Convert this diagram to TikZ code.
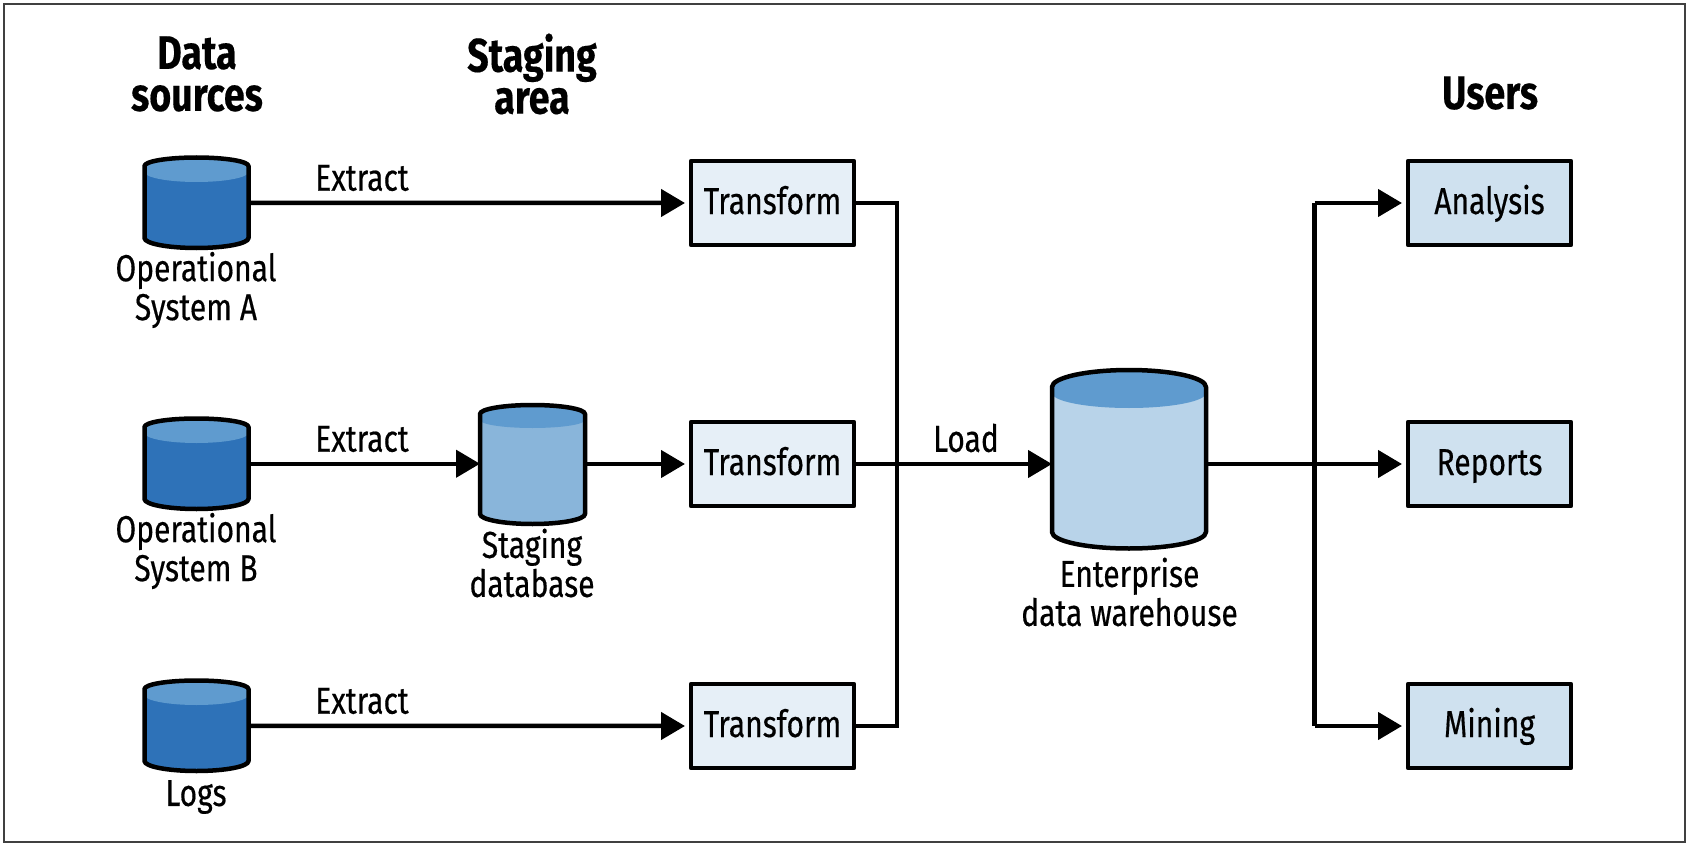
\documentclass[tikz,border=0pt]{standalone}
\usepackage{fontspec}
\setmainfont{Fira Sans}[FakeStretch=0.8,UprightFeatures={FakeBold=0.4},BoldFeatures={FakeBold=0.3}]
\usetikzlibrary{arrows.meta}
\definecolor{cylblue}{HTML}{2E72B8}
\definecolor{cylmid}{HTML}{89B5DA}
\definecolor{cylpale}{HTML}{B8D3E9}
\definecolor{cyltop}{HTML}{5F9BCF}
\definecolor{boxpale}{HTML}{E6EFF7}
\definecolor{boxuser}{HTML}{CFE1EF}
\tikzset{
  line/.style={line width=4.5pt,black,line join=miter},
  conn/.style={line,-{Triangle[length=24pt,width=27pt]}},
  connbox/.style={conn,shorten >=6pt},
  tbox/.style={draw=black,line width=4.5pt,line join=round,fill=boxpale,minimum width=163pt,minimum height=84pt,inner sep=0pt,outer sep=0pt,text height=26pt,text depth=4pt,font=\fontsize{37.5}{38.5}\selectfont},
  ubox/.style={tbox,fill=boxuser},
  head/.style={font=\fontsize{47}{42}\bfseries\selectfont,align=center,inner sep=0pt},
  lab/.style={font=\fontsize{37.5}{39}\selectfont,align=center,inner sep=0pt},
  elab/.style={font=\fontsize{37.5}{38.5}\selectfont,inner sep=0pt},
  hold/.style={inner sep=0pt,outer sep=0pt},
}
% name, cx, half width, top, shoulder, ellipse edge, ellipse apex, bottom shoulder, bottom apex
\newcommand\dbcyl[9]{%
  \pgfmathsetmacro\cxl{#2-#3}\pgfmathsetmacro\cxr{#2+#3}%
  \pgfmathsetmacro\ckx{0.5523*#3}%
  \pgfmathsetmacro\cka{#5-0.5523*(#5-#4)}%
  \pgfmathsetmacro\ckb{#6+0.5523*(#7-#6)}%
  \pgfmathsetmacro\ckc{#8+0.5523*(#9-#8)}%
  \pgfmathsetmacro\ccl{#2-\ckx}\pgfmathsetmacro\ccr{#2+\ckx}%
  \pgfmathsetmacro\cym{(#4+#9)/2}\pgfmathsetmacro\chh{#9-#4}\pgfmathsetmacro\cww{2*#3}%
  \node[hold,minimum width=\cww pt,minimum height=\chh pt] (#1) at (#2,\cym) {};
  \fill[cylbody] (\cxl,#5) .. controls (\cxl,\cka) and (\ccl,#4) .. (#2,#4)
     .. controls (\ccr,#4) and (\cxr,\cka) .. (\cxr,#5) -- (\cxr,#8)
     .. controls (\cxr,\ckc) and (\ccr,#9) .. (#2,#9)
     .. controls (\ccl,#9) and (\cxl,\ckc) .. (\cxl,#8) -- cycle;
  \fill[cyltop] (\cxl,#5) .. controls (\cxl,\cka) and (\ccl,#4) .. (#2,#4)
     .. controls (\ccr,#4) and (\cxr,\cka) .. (\cxr,#5) -- (\cxr,#6)
     .. controls (\cxr,\ckb) and (\ccr,#7) .. (#2,#7)
     .. controls (\ccl,#7) and (\cxl,\ckb) .. (\cxl,#6) -- cycle;
  \draw[line width=4.5pt,line join=round] (\cxl,#5) .. controls (\cxl,\cka) and (\ccl,#4) .. (#2,#4)
     .. controls (\ccr,#4) and (\cxr,\cka) .. (\cxr,#5) -- (\cxr,#8)
     .. controls (\cxr,\ckc) and (\ccr,#9) .. (#2,#9)
     .. controls (\ccl,#9) and (\cxl,\ckc) .. (\cxl,#8) -- cycle;
}
\begin{document}
\begin{tikzpicture}[x=1pt,y=-1pt]
\useasboundingbox (0,0) rectangle (1690,848);
\fill[white] (0,0) rectangle (1690,848);
\draw[line width=1.6pt,draw=black!75] (4,4) rectangle (1685,842);

% headings
\node[head] (hdata) at (197,74) {Data\\sources};
\node[head] (hstag) at (532,74) {Staging\\area};
\node[head,anchor=base] (husers) at (1490,109) {Users};

% cylinders
\colorlet{cylbody}{cylblue}
\dbcyl{opa}{196.5}{52}{157.5}{166}{172}{182}{238}{248}
\dbcyl{opb}{196.5}{52}{418.5}{427}{433}{443}{499}{509}
\dbcyl{logs}{196.5}{52}{680.5}{689}{695}{705}{761}{771}
\colorlet{cylbody}{cylmid}
\dbcyl{stag}{532.5}{52.5}{405}{414}{420}{428}{514}{524}
\colorlet{cylbody}{cylpale}
\dbcyl{ware}{1129}{77}{370}{387}{393}{408}{532}{548.5}

% boxes
\node[tbox] (t1) at (772.5,203) {Transform};
\node[tbox] (t2) at (772.5,464) {Transform};
\node[tbox] (t3) at (772.5,726) {Transform};
\node[ubox] (u1) at (1489.5,203) {Analysis};
\node[ubox] (u2) at (1489.5,464) {Reports};
\node[ubox] (u3) at (1489.5,726) {Mining};

% captions
\node[lab] (lopa) at (196,290) {Operational\\System A};
\node[lab] (lopb) at (196,551) {Operational\\System B};
\node[lab] (llogs) at (196,797) {Logs};
\node[lab] (lstag) at (532,563) {Staging\\database};
\node[lab] (lware) at (1129.5,592) {Enterprise\\data warehouse};

% edge labels
\node[elab] (e1) at (362,178) {Extract};
\node[elab] (e2) at (362,439) {Extract};
\node[elab] (e3) at (362,701) {Extract};
\node[elab] (eload) at (966,438) {Load};

% junction coordinates
\coordinate (bus1) at (897,203);
\coordinate (bus3) at (897,726);
\coordinate (dist1) at (1314.5,203);
\coordinate (dist3) at (1314.5,726);
\coordinate (ware2) at (ware.west |- t2.east);
\coordinate (wareo) at (ware.east |- t2.east);

% connectors
\draw[connbox] (opa.east) -- (t1.west);
\draw[conn,shorten >=0pt] (opb.east) -- (stag.west |- opb.east);
\draw[connbox] (stag.east |- t2.west) -- (t2.west);
\draw[connbox] (logs.east) -- (t3.west);
\draw[line] (t1.east) -- (bus1) -- (bus3) -- (t3.east);
\draw[conn] (t2.east) -- (ware2);
\draw[line] (wareo) -- (dist1 |- wareo);
\draw[connbox] (dist1) -- (u1.west);
\draw[connbox] (dist1 |- wareo) -- (u2.west);
\draw[connbox] (dist3) -- (u3.west);
\draw[line] (dist1) -- (dist3);
\end{tikzpicture}
\end{document}
